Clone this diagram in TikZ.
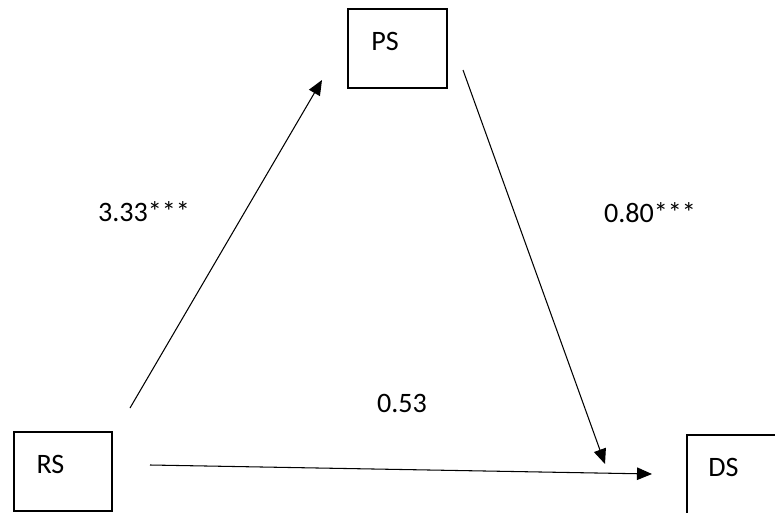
\documentclass[tikz,border=0pt]{standalone}
\usepackage{fontspec}
\setmainfont{Carlito}
\usepackage{tikz}
\usetikzlibrary{arrows.meta,positioning}

\begin{document}
\begin{tikzpicture}[font=\fontsize{16}{19}\selectfont,
    box/.style={draw, line width=0.9pt, minimum width=1.97cm, minimum height=1.58cm, inner sep=0pt},
    link/.style={line width=0.6pt, -{Triangle[length=0.3cm,width=0.25cm]}}]
    \useasboundingbox (0,0) rectangle (15.5,10.24);
    % variables
    \node[box, label={[xshift=-0.25cm,yshift=0.14cm]center:PS}] (ps) at (7.95,9.27) {};
    \node[box, label={[xshift=-0.25cm,yshift=0.14cm]center:RS}] (rs) at (1.26,0.81) {};
    \node[box, label={[xshift=-0.25cm,yshift=0.14cm]center:DS}] (ds) at (14.72,0.75) {};
    % arrow ends
    \coordinate (rs-a) at (2.60,2.08);
    \coordinate (ps-a) at (6.44,8.64);
    \coordinate (ps-b) at (9.26,8.84);
    \coordinate (ds-b) at (12.10,0.96);
    \coordinate (rs-c) at (3.00,0.94);
    \coordinate (ds-c) at (13.04,0.76);
    \draw[link] (rs-a) -- (ps-a);
    \draw[link] (ps-b) -- (ds-b);
    \draw[link] (rs-c) -- (ds-c);
    % coefficients
    \node (a) at (2.88,6.00) {3.33***};
    \node (b) at (13.00,5.98) {0.80***};
    \node (c) at (8.04,2.18) {0.53};
  \end{tikzpicture}
\end{document}
